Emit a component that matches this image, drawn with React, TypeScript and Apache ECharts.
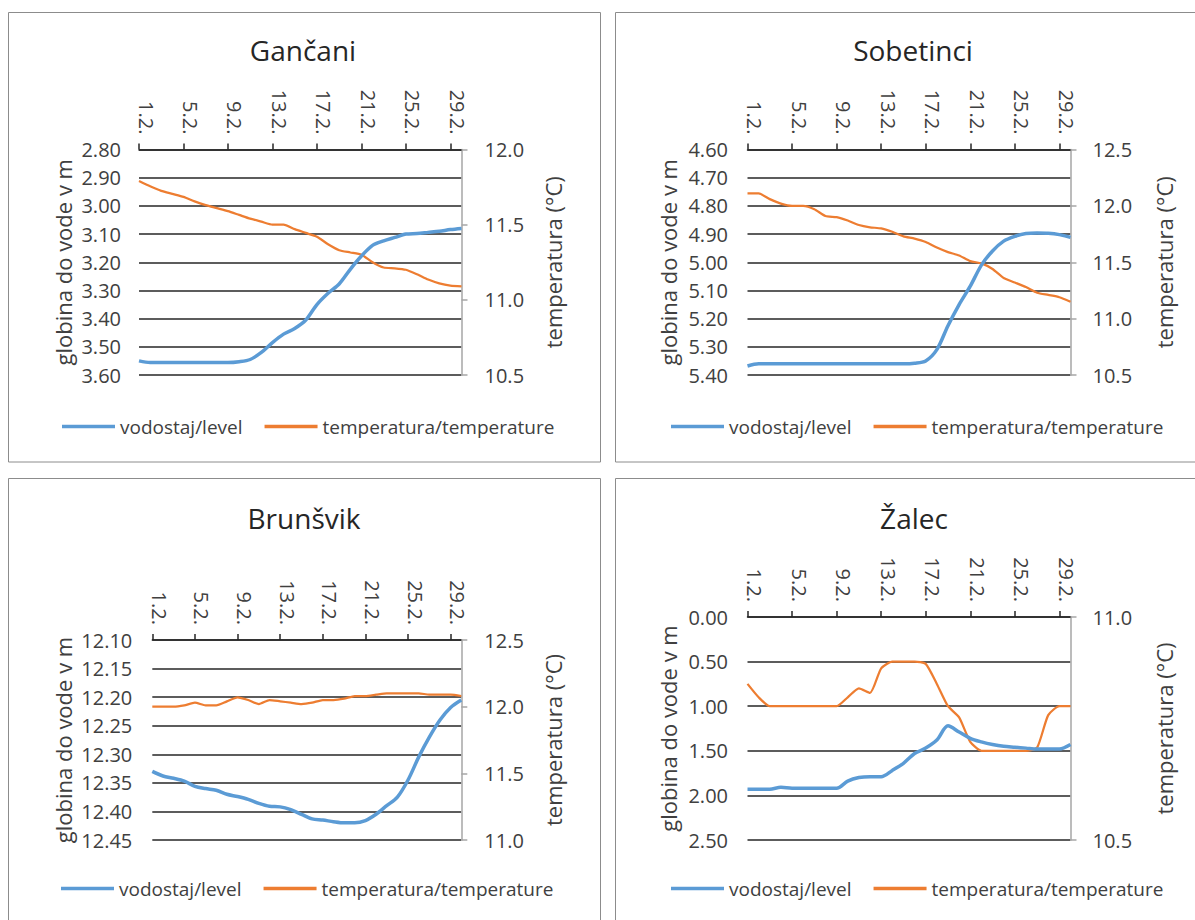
import React, { useEffect, useRef } from 'react';
import * as echarts from 'echarts';

// Days of February 2020 plus the first of March (30 daily readings)
const days = [
  '1.2.', '2.2.', '3.2.', '4.2.', '5.2.', '6.2.', '7.2.', '8.2.', '9.2.', '10.2.',
  '11.2.', '12.2.', '13.2.', '14.2.', '15.2.', '16.2.', '17.2.', '18.2.', '19.2.', '20.2.',
  '21.2.', '22.2.', '23.2.', '24.2.', '25.2.', '26.2.', '27.2.', '28.2.', '29.2.', '1.3.',
];

const levelName = 'vodostaj/level';
const tempName = 'temperatura/temperature';

// Gančani
const gancaniLevel = [
  3.55, 3.556, 3.556, 3.556, 3.556, 3.556, 3.556, 3.556, 3.556, 3.553,
  3.545, 3.52, 3.485, 3.455, 3.435, 3.405, 3.35, 3.31, 3.277, 3.225,
  3.178, 3.14, 3.124, 3.112, 3.10, 3.098, 3.094, 3.09, 3.084, 3.08,
];
const gancaniTemp = [
  11.79, 11.755, 11.725, 11.705, 11.685, 11.655, 11.63, 11.61, 11.59, 11.565,
  11.54, 11.52, 11.50, 11.50, 11.47, 11.445, 11.42, 11.37, 11.33, 11.315,
  11.30, 11.25, 11.215, 11.21, 11.20, 11.17, 11.135, 11.11, 11.095, 11.09,
];

// Sobetinci
const sobetinciLevel = [
  5.368, 5.36, 5.36, 5.36, 5.36, 5.36, 5.36, 5.36, 5.36, 5.36,
  5.36, 5.36, 5.36, 5.36, 5.36, 5.358, 5.35, 5.31, 5.225, 5.15,
  5.085, 5.01, 4.96, 4.925, 4.908, 4.898, 4.896, 4.897, 4.902, 4.912,
];
const sobetinciTemp = [
  12.11, 12.11, 12.06, 12.02, 12.0, 12.0, 11.97, 11.91, 11.9, 11.87,
  11.83, 11.81, 11.8, 11.77, 11.73, 11.71, 11.68, 11.63, 11.59, 11.56,
  11.51, 11.49, 11.44, 11.36, 11.32, 11.28, 11.23, 11.21, 11.19, 11.15,
];

// Brunšvik
const brunsvikLevel = [
  12.33, 12.338, 12.342, 12.347, 12.356, 12.36, 12.363, 12.37, 12.374, 12.379,
  12.386, 12.391, 12.392, 12.397, 12.405, 12.413, 12.415, 12.418, 12.42, 12.42,
  12.416, 12.405, 12.39, 12.375, 12.345, 12.305, 12.27, 12.24, 12.218, 12.205,
];
const brunsvikTemp = [
  12.0, 12.0, 12.0, 12.01, 12.03, 12.01, 12.01, 12.04, 12.07, 12.05,
  12.02, 12.05, 12.04, 12.03, 12.02, 12.03, 12.05, 12.05, 12.06, 12.08,
  12.08, 12.09, 12.1, 12.1, 12.1, 12.1, 12.09, 12.09, 12.09, 12.08,
];

// Žalec
const zalecLevel = [
  1.93, 1.93, 1.93, 1.91, 1.92, 1.92, 1.92, 1.92, 1.92, 1.84,
  1.80, 1.79, 1.79, 1.72, 1.64, 1.53, 1.47, 1.38, 1.22, 1.29,
  1.36, 1.40, 1.43, 1.45, 1.46, 1.47, 1.48, 1.48, 1.48, 1.43,
];
const zalecTemp = [
  10.85, 10.82, 10.80, 10.80, 10.80, 10.80, 10.80, 10.80, 10.80, 10.82,
  10.84, 10.83, 10.885, 10.90, 10.90, 10.90, 10.895, 10.85, 10.80, 10.775,
  10.72, 10.70, 10.70, 10.70, 10.70, 10.70, 10.707, 10.78, 10.80, 10.80,
];

const FONT = "'Open Sans', 'Noto Sans', sans-serif";
const TEXT = '#404040';
const BLUE = '#5B9BD5';
const ORANGE = '#ED7D31';

type Panel = {
  title: string;
  level: number[];
  temp: number[];
  levelRange: [number, number, number];
  levelDigits: number;
  tempRange: [number, number, number];
  grid: { left: number; top: number; width: number; height: number };
  titleAt: [number, number];
  legendAt: [number, number];
  nameGaps: [number, number];
  labelMargins: [number, number];
  frame: [number, number, number, number];
};

const panels: Panel[] = [
  {
    title: 'Gančani', level: gancaniLevel, temp: gancaniTemp,
    levelRange: [2.8, 3.6, 0.1], levelDigits: 2, tempRange: [10.5, 12.0, 0.5],
    grid: { left: 139, top: 149.5, width: 322.5, height: 225.5 },
    titleAt: [303, 52], legendAt: [62, 427], nameGaps: [65, 80.5], labelMargins: [18, 23],
    frame: [8.5, 12.5, 592, 449.5],
  },
  {
    title: 'Sobetinci', level: sobetinciLevel, temp: sobetinciTemp,
    levelRange: [4.6, 5.4, 0.1], levelDigits: 2, tempRange: [10.5, 12.5, 0.5],
    grid: { left: 747.5, top: 149.5, width: 323, height: 225.5 },
    titleAt: [913, 52], legendAt: [671, 427], nameGaps: [68.5, 82.5], labelMargins: [19.5, 22],
    frame: [615.5, 12.5, 600, 449.5],
  },
  {
    title: 'Brunšvik', level: brunsvikLevel, temp: brunsvikTemp,
    levelRange: [12.1, 12.45, 0.05], levelDigits: 2, tempRange: [11.0, 12.5, 0.5],
    grid: { left: 152.3, top: 640, width: 309, height: 200 },
    titleAt: [304, 520], legendAt: [61, 889], nameGaps: [78, 80.5], labelMargins: [20, 23],
    frame: [8.5, 478.5, 592, 500],
  },
  {
    title: 'Žalec', level: zalecLevel, temp: zalecTemp,
    levelRange: [0, 2.5, 0.5], levelDigits: 2, tempRange: [10.5, 11.0, 0.5],
    grid: { left: 747.5, top: 617, width: 323, height: 223 },
    titleAt: [914, 520], legendAt: [671, 889], nameGaps: [68.5, 82.5], labelMargins: [19.5, 22],
    frame: [615.5, 478.5, 600, 500],
  },
];

function buildOption() {
  const grid: any[] = [];
  const xAxis: any[] = [];
  const yAxis: any[] = [];
  const series: any[] = [];
  const title: any[] = [];
  const legend: any[] = [];
  const graphic: any[] = [];

  panels.forEach((p, k) => {
    graphic.push({
      type: 'rect',
      shape: { x: p.frame[0], y: p.frame[1], width: p.frame[2], height: p.frame[3] },
      style: { fill: 'none', stroke: '#8c8c8c', lineWidth: 1 },
      silent: true,
    });

    title.push({
      text: p.title,
      left: p.titleAt[0],
      top: p.titleAt[1] - 16,
      textAlign: 'center',
      padding: 0,
      textStyle: { fontFamily: FONT, fontSize: 28, fontWeight: 'normal', color: '#262626' },
    });

    legend.push({
      left: p.legendAt[0],
      top: p.legendAt[1] - 10,
      icon: 'rect',
      itemWidth: 53,
      itemHeight: 3.5,
      itemGap: 22,
      selectedMode: false,
      padding: 0,
      textStyle: { fontFamily: FONT, fontSize: 19, color: TEXT },
      data: [levelName, tempName],
    });

    grid.push({ ...p.grid, containLabel: false });

    xAxis.push({
      type: 'category',
      gridIndex: k,
      position: 'top',
      data: days,
      boundaryGap: false,
      axisLine: { show: true, onZero: false, lineStyle: { color: '#262626', width: 1.5 } },
      axisTick: { show: true, interval: 3, length: 6, lineStyle: { color: '#262626', width: 1.5 } },
      axisLabel: {
        interval: 3, rotate: 90, margin: 15,
        verticalAlign: 'bottom',
        lineHeight: 14,
        fontFamily: FONT, fontSize: 20, color: TEXT,
      },
      splitLine: { show: false },
    });

    const [lMin, lMax, lStep] = p.levelRange;
    yAxis.push({
      type: 'value',
      gridIndex: k,
      position: 'left',
      inverse: true,
      min: lMin,
      max: lMax,
      interval: lStep,
      axisLine: { show: false, onZero: false },
      axisTick: { show: false },
      splitLine: { show: true, lineStyle: { color: '#262626', width: 1.6 } },
      axisLabel: {
        margin: p.labelMargins[0],
        fontFamily: FONT, fontSize: 20, color: TEXT,
        formatter: (v: number) => v.toFixed(p.levelDigits),
      },
      name: 'globina do vode v m',
      nameLocation: 'middle',
      nameRotate: 90,
      nameGap: p.nameGaps[0],
      nameTextStyle: { fontFamily: FONT, fontSize: 22, color: TEXT },
    });

    const [tMin, tMax, tStep] = p.tempRange;
    yAxis.push({
      type: 'value',
      gridIndex: k,
      position: 'right',
      min: tMin,
      max: tMax,
      interval: tStep,
      axisLine: { show: true, onZero: false, lineStyle: { color: '#a6a6a6', width: 1.5 } },
      axisTick: { show: true, length: 6, lineStyle: { color: '#a6a6a6', width: 1.5 } },
      splitLine: { show: false },
      axisLabel: {
        margin: p.labelMargins[1],
        fontFamily: FONT, fontSize: 20, color: TEXT,
        formatter: (v: number) => v.toFixed(1),
      },
      name: 'temperatura (°C)',
      nameLocation: 'middle',
      nameRotate: 90,
      nameGap: p.nameGaps[1],
      nameTextStyle: { fontFamily: FONT, fontSize: 22, color: TEXT },
    });

    series.push({
      name: levelName,
      type: 'line',
      xAxisIndex: k,
      yAxisIndex: 2 * k,
      data: p.level,
      showSymbol: false,
      symbol: 'none',
      smooth: 0.3,
      lineStyle: { color: BLUE, width: 3.5 },
      itemStyle: { color: BLUE },
      z: 3,
    });
    series.push({
      name: tempName,
      type: 'line',
      xAxisIndex: k,
      yAxisIndex: 2 * k + 1,
      data: p.temp,
      showSymbol: false,
      symbol: 'none',
      smooth: 0.2,
      lineStyle: { color: ORANGE, width: 2.25 },
      itemStyle: { color: ORANGE },
      z: 2,
    });
  });

  return {
    animation: false,
    backgroundColor: '#ffffff',
    textStyle: { fontFamily: FONT },
    title,
    legend,
    grid,
    xAxis,
    yAxis,
    series,
    graphic,
  };
}

export default function App() {
  const ref = useRef<HTMLDivElement>(null);

  useEffect(() => {
    if (!ref.current) return;
    const chart = echarts.init(ref.current, undefined, { renderer: 'svg' });
    chart.setOption(buildOption());
    return () => chart.dispose();
  }, []);

  return (
    <div
      ref={ref}
      style={{ position: 'fixed', left: 0, top: 0, width: 1195, height: 920, background: '#fff' }}
    />
  );
}
